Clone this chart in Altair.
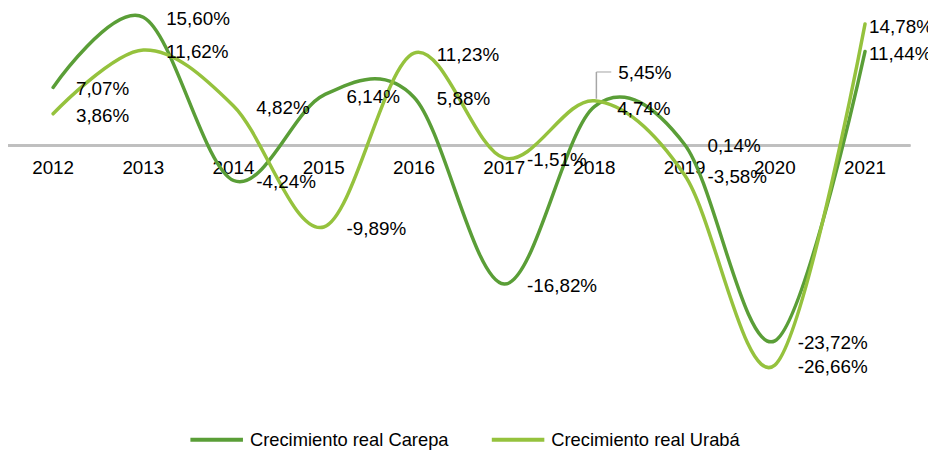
import altair as alt
import pandas as pd

years = ["2012", "2013", "2014", "2015", "2016", "2017", "2018", "2019", "2020", "2021"]
carepa = [7.07, 15.60, -4.24, 6.14, 5.88, -16.82, 4.74, 0.14, -23.72, 11.44]
uraba = [3.86, 11.62, 4.82, -9.89, 11.23, -1.51, 5.45, -3.58, -26.66, 14.78]
series = ["Crecimiento real Carepa", "Crecimiento real Urabá"]
colors = ["#5a9e37", "#95c23d"]

FONT = "Liberation Sans"
FS = 19

rows = []
for s, vals in zip(series, [carepa, uraba]):
    for y, v in zip(years, vals):
        rows.append({"year": y, "series": s, "value": v,
                     "label": f"{v:.2f}%".replace(".", ",")})
df = pd.DataFrame(rows)
df_years = pd.DataFrame({"year": years, "zero": [0] * len(years)})

x_enc = alt.X("year:O", axis=None, scale=alt.Scale(type="point", padding=0.5, domain=years))
y_scale = alt.Scale(domain=[-30, 16], nice=False, zero=False)
y_val = alt.Y("value:Q", scale=y_scale, axis=None)
y_zero = alt.Y("zero:Q", scale=y_scale, axis=None)

base = alt.Chart(df)

zero = alt.Chart(df_years).mark_rule(color="#bfbfbf", strokeWidth=2).encode(y=y_zero)

year_labels = alt.Chart(df_years).mark_text(
    dy=23, fontSize=FS, font=FONT, color="#000000", baseline="middle"
).encode(x=x_enc, y=y_zero, text="year:N")

lines = base.mark_line(interpolate="cardinal", strokeWidth=3.5, strokeCap="round").encode(
    x=x_enc,
    y=y_val,
    color=alt.Color(
        "series:N",
        scale=alt.Scale(domain=series, range=colors),
        legend=alt.Legend(
            orient="none", legendX=182, legendY=401, direction="horizontal", title=None,
            symbolType="stroke", symbolSize=2809, symbolStrokeWidth=4,
            labelFontSize=18.5, labelFont=FONT, labelColor="#000000", labelOffset=5,
            columnPadding=35, labelLimit=400,
        ),
    ),
)

text_style = dict(align="left", baseline="middle", fontSize=FS, font=FONT, color="#000000")

labels_main = base.transform_filter(
    "datum.year != '2021' && !(datum.year == '2018' && datum.series == 'Crecimiento real Urabá')"
).mark_text(dx=23, dy=2, **text_style).encode(x=x_enc, y=y_val, text="label:N")

labels_last = base.transform_filter("datum.year == '2021'").mark_text(
    dx=4, dy=3, **text_style
).encode(x=x_enc, y=y_val, text="label:N")

callout = base.transform_filter("datum.year == '2018' && datum.series == 'Crecimiento real Urabá'")
labels_callout = callout.mark_text(dx=24, dy=-28, **text_style).encode(
    x=x_enc, y=y_val, text="label:N"
)
leader_v = callout.mark_rule(
    color="#a6a6a6", strokeWidth=1.5, xOffset=2, yOffset=-2, y2Offset=-29
).encode(x=x_enc, y=y_val, y2="value:Q")
leader_h = callout.mark_tick(
    color="#a6a6a6", thickness=1.5, size=15, xOffset=9.5, yOffset=-29, orient="horizontal"
).encode(x=x_enc, y=y_val)

chart = alt.layer(
    zero, year_labels, lines, leader_v, leader_h, labels_main, labels_last, labels_callout
).properties(
    width=910, height=382,
    padding={"left": 0, "top": 4, "right": 18, "bottom": 57},
    autosize="none",
).configure_view(stroke=None)

chart.save("out.html", embed_options={"renderer": "svg", "actions": False})
